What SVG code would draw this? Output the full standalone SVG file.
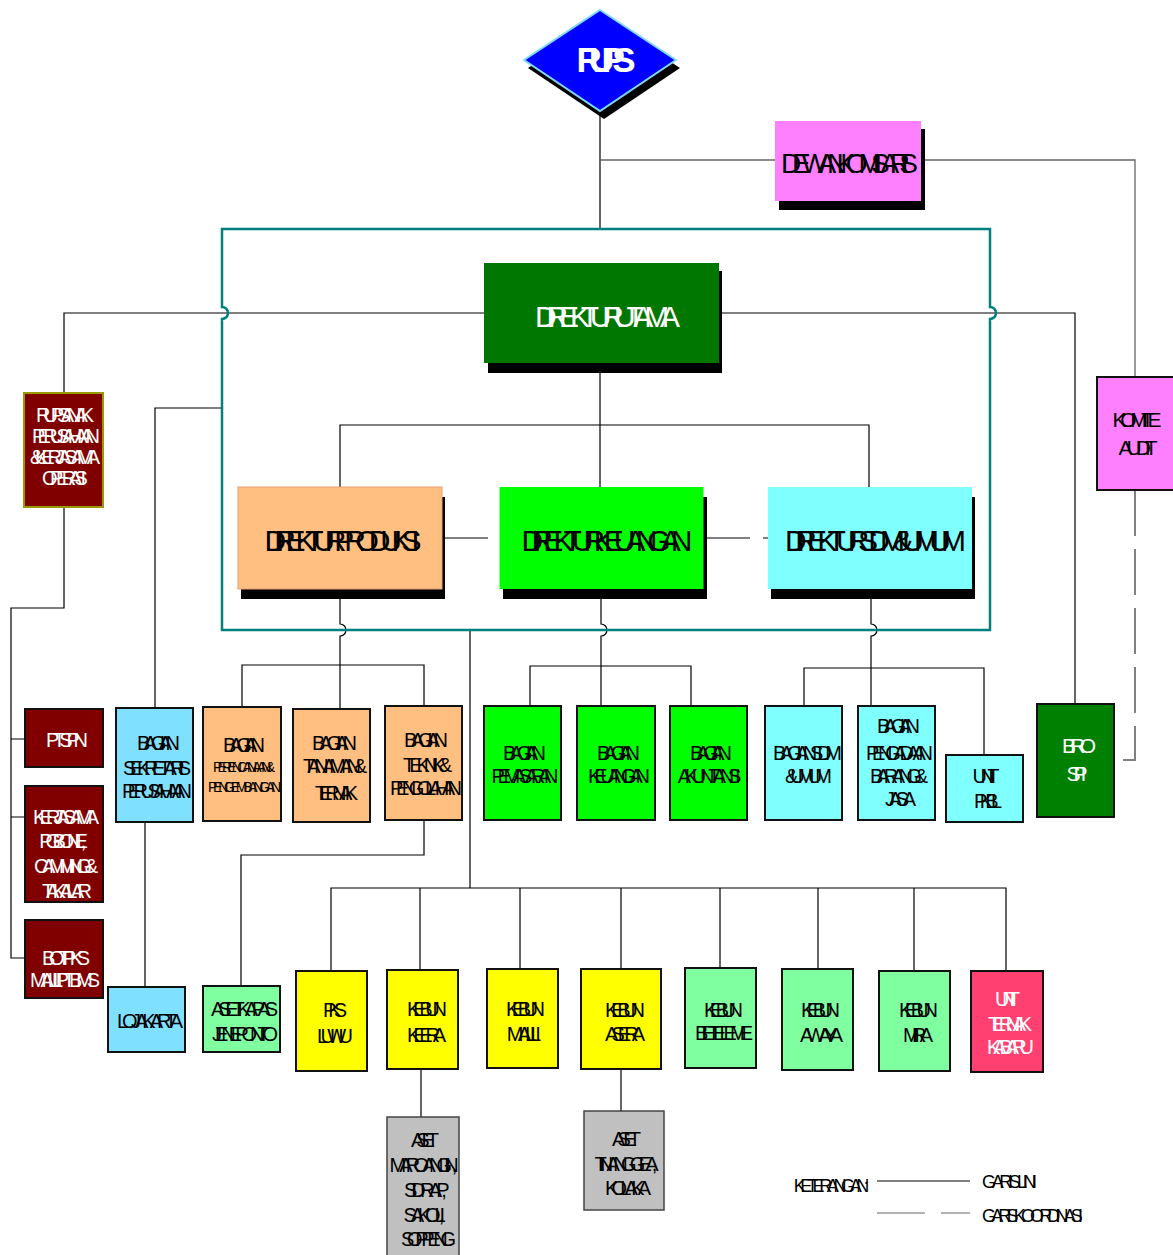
<svg xmlns="http://www.w3.org/2000/svg" width="1173" height="1255" viewBox="0 0 1173 1255">
<style>
.ln{fill:none;stroke:#000;stroke-width:1.2}
.lg{fill:none;stroke:#666;stroke-width:1.3}
.co{fill:none;stroke:#808080;stroke-width:2;stroke-dasharray:46 13}
.sh{fill:#000}
.bx{stroke:#111;stroke-width:2}
.t{font-family:"Liberation Sans",Arial,sans-serif;font-size:20px;text-anchor:middle;fill:#000}
.s{font-size:14px}
.w{fill:#fff}
.big{font-size:30px}
.f20{font-size:21px}
.lg18{font-size:18px}
.st{text-anchor:start}
.blue{fill:#80E0FF}.org{fill:#FFBF80}.grn{fill:#00FF00}.cyn{fill:#80FFFF}.lgr{fill:#80FFA0}.yel{fill:#FFFF00}.mar{fill:#800000}.gry{fill:#C0C0C0;stroke:#444;stroke-width:1.5}
</style>
<rect width="1173" height="1255" fill="#fff"/>
<g id="connectors">
<path class="ln" d="M600,111 V229"/>
<path class="lg" d="M600,160 H776 M921,160 H1135 V377"/>
<path class="ln" d="M484,313 H64 V393 M719,313 H1075 V704"/>
<path class="ln" d="M64,507 V608 H11 V958 H25 M11,739 H25 M11,817 H25"/>
<path class="ln" d="M222,408 H155 V708"/>
<path class="ln" d="M600,373 V487 M340,487 V425 H869 V487"/>
<path class="ln" d="M340,599 V624 a6,6 0 0 1 0,12 V709 M242,707 V665 H424 V706"/>
<path class="ln" d="M601,599 V624 a6,6 0 0 1 0,12 V706 M530,706 V666 H691 V706"/>
<path class="ln" d="M871,599 V624 a6,6 0 0 1 0,12 V706 M804,706 V668 H984 V755"/>
<path class="ln" d="M470,630 V888 M331,971 V888 H1006 V971 M420,888 V970 M520,888 V969 M621,888 V969 M720,888 V968 M818,888 V969 M914,888 V971"/>
<path class="ln" d="M424,820 V855 H241 V986 M145,822 V987 M421,1069 V1117 M621,1069 V1111"/>
<path class="co" d="M1135,490 V760 H1114"/>
<path class="co" d="M442,538 H499 M704,538 H768"/>
<path fill="none" stroke="#008080" stroke-width="2.5" d="M222,229 H990 V307 a6,6 0 0 1 0,12 V630 H222 V319 a6,6 0 0 0 0,-12 Z"/>
<path class="ln" d="M877,1181 H970"/>
<path fill="none" stroke="#666" stroke-width="1.2" d="M877,1213 H925 M941,1213 H970"/>
</g>
<g id="rups">
<polygon class="sh" points="604,18 680,68 604,119 528,68"/>
<polygon points="600,10 676,60 600,111 524,60" fill="#0000FF" stroke="#80D8FF" stroke-width="2"/>
<text class="t w" x="606" y="72" style="font-size:35px;font-weight:bold" textLength="59" lengthAdjust="spacing">RUPS</text>
</g>
<g id="dewan-komisaris">
<rect class="sh" x="779" y="129" width="146" height="81"/>
<rect x="775" y="121" width="146" height="80" fill="#FF80FF"/>
<text class="t" x="849.5" y="173" style="font-size:28px" textLength="137" lengthAdjust="spacing">DEWAN KOMISARIS</text>
</g>
<g id="komite-audit">
<rect class="bx" x="1097" y="377" width="78" height="113" fill="#FF80FF"/>
<text class="t f20" x="1137" y="427" textLength="49" lengthAdjust="spacing">KOMITE</text>
<text class="t f20" x="1138" y="455" textLength="39" lengthAdjust="spacing">AUDIT</text>
</g>
<g id="direktur-utama">
<rect class="sh" x="488" y="271" width="234" height="102"/>
<rect x="484" y="263" width="235" height="100" fill="#007700"/>
<text class="t w big" x="607.5" y="327" textLength="145" lengthAdjust="spacing">DIREKTUR UTAMA</text>
</g>
<g id="direktur-produksi">
<rect class="sh" x="241" y="497" width="204" height="102"/>
<rect x="238" y="487" width="204" height="102" fill="#FFBF80" stroke="#E8A070" stroke-width="1"/>
<text class="t big" x="343" y="551" textLength="155" lengthAdjust="spacing">DIREKTUR PRODUKSI</text>
</g>
<g id="direktur-keuangan">
<rect class="sh" x="503" y="497" width="204" height="102"/>
<rect x="499.5" y="487" width="204" height="102" fill="#00FF00"/>
<text class="t big" x="607" y="551" textLength="171" lengthAdjust="spacing">DIREKTUR KEUANGAN</text>
</g>
<g id="direktur-sdm">
<rect class="sh" x="771" y="497" width="204" height="102"/>
<rect x="768" y="487" width="204" height="102" fill="#80FFFF"/>
<text class="t big" x="875.5" y="551" textLength="181" lengthAdjust="spacing">DIREKTUR SDM &amp; UMUM</text>
</g>
<g id="rups-anak">
<rect class="mar" x="24" y="393" width="79" height="114" stroke="#999900" stroke-width="2"/>
<text class="t w" x="65" y="422" textLength="58" lengthAdjust="spacing">RUPS ANAK</text>
<text class="t w" x="66" y="443" textLength="68" lengthAdjust="spacing">PERUSAHAAN</text>
<text class="t w" x="65" y="464" textLength="70" lengthAdjust="spacing">&amp; KERJASAMA</text>
<text class="t w" x="65" y="485" textLength="44" lengthAdjust="spacing">OPERASI</text>
</g>
<g id="ptspn">
<rect class="bx mar" x="25" y="709" width="78" height="58"/>
<text class="t w" x="67" y="747" textLength="42" lengthAdjust="spacing">PTSPN</text>
</g>
<g id="kerjasama">
<rect class="bx mar" x="25" y="786" width="78" height="116"/>
<text class="t w" x="66" y="824" textLength="66" lengthAdjust="spacing">KERJASAMA</text>
<text class="t w" x="63.5" y="848" textLength="47" lengthAdjust="spacing">PG BONE,</text>
<text class="t w" x="66" y="873" textLength="64" lengthAdjust="spacing">CAMMING &amp;</text>
<text class="t w" x="67" y="898" textLength="50" lengthAdjust="spacing">TAKALAR</text>
</g>
<g id="bot-pks">
<rect class="bx mar" x="25" y="920" width="78" height="78"/>
<text class="t w" x="66" y="965" textLength="48" lengthAdjust="spacing">BOT PKS</text>
<text class="t w" x="65" y="987" textLength="70" lengthAdjust="spacing">MALILI PTBMS</text>
</g>
<g id="bagian-sekretaris">
<rect class="bx blue" x="116" y="708" width="77" height="114"/>
<text class="t" x="158.5" y="750" textLength="43" lengthAdjust="spacing">BAGIAN</text>
<text class="t" x="157" y="775" textLength="68" lengthAdjust="spacing">SEKRETARIS</text>
<text class="t" x="157" y="798" textLength="70" lengthAdjust="spacing">PERUSAHAAN</text>
</g>
<g id="bagian-perencanaan">
<rect class="bx org" x="203" y="707" width="78" height="114"/>
<text class="t" x="244" y="752" textLength="42" lengthAdjust="spacing">BAGIAN</text>
<text class="t s" x="244" y="772" textLength="62" lengthAdjust="spacing">PERENCANAAN &amp;</text>
<text class="t s" x="244.5" y="792" textLength="73" lengthAdjust="spacing">PENGEMBANGAN</text>
</g>
<g id="bagian-tanaman">
<rect class="bx org" x="293" y="709" width="77" height="113"/>
<text class="t" x="334.5" y="750" textLength="45" lengthAdjust="spacing">BAGIAN</text>
<text class="t" x="335" y="773" textLength="64" lengthAdjust="spacing">TANAMAN &amp;</text>
<text class="t" x="336.5" y="800" textLength="43" lengthAdjust="spacing">TERNAK</text>
</g>
<g id="bagian-teknik">
<rect class="bx org" x="385" y="706" width="77" height="114"/>
<text class="t" x="426" y="747" textLength="44" lengthAdjust="spacing">BAGIAN</text>
<text class="t" x="427.5" y="772" textLength="49" lengthAdjust="spacing">TEKNIK &amp;</text>
<text class="t" x="426" y="795" textLength="72" lengthAdjust="spacing">PENGOLAHAN</text>
</g>
<g id="bagian-pemasaran">
<rect class="bx grn" x="484" y="706" width="77" height="114"/>
<text class="t" x="524.5" y="760" textLength="43" lengthAdjust="spacing">BAGIAN</text>
<text class="t" x="525" y="783" textLength="67" lengthAdjust="spacing">PEMASARAN</text>
</g>
<g id="bagian-keuangan">
<rect class="bx grn" x="577" y="706" width="78" height="114"/>
<text class="t" x="618.5" y="760" textLength="43" lengthAdjust="spacing">BAGIAN</text>
<text class="t" x="619" y="783" textLength="62" lengthAdjust="spacing">KEUANGAN</text>
</g>
<g id="bagian-akuntansi">
<rect class="bx grn" x="670" y="706" width="77" height="114"/>
<text class="t" x="711" y="760" textLength="42" lengthAdjust="spacing">BAGIAN</text>
<text class="t" x="709.5" y="783" textLength="63" lengthAdjust="spacing">AKUNTANSI</text>
</g>
<g id="bagian-sdm">
<rect class="bx cyn" x="765" y="706" width="77" height="114"/>
<text class="t" x="807.5" y="760" textLength="69" lengthAdjust="spacing">BAGIAN SDM</text>
<text class="t" x="808.5" y="783" textLength="47" lengthAdjust="spacing">&amp; UMUM</text>
</g>
<g id="bagian-pengadaan">
<rect class="bx cyn" x="858" y="706" width="77" height="114"/>
<text class="t" x="898.5" y="733" textLength="43" lengthAdjust="spacing">BAGIAN</text>
<text class="t" x="899.5" y="760" textLength="67" lengthAdjust="spacing">PENGADAAN</text>
<text class="t" x="899" y="783" textLength="58" lengthAdjust="spacing">BARANG &amp;</text>
<text class="t" x="900.5" y="806" textLength="31" lengthAdjust="spacing">JASA</text>
</g>
<g id="unit-pkbl">
<rect class="bx cyn" x="946" y="755" width="77" height="67"/>
<text class="t" x="986" y="783" textLength="27" lengthAdjust="spacing">UNIT</text>
<text class="t" x="988" y="808" textLength="28" lengthAdjust="spacing">PKBL</text>
</g>
<g id="biro-spi">
<rect class="bx" x="1037" y="704" width="77" height="113" fill="#008000"/>
<text class="t w f20" x="1079" y="753" textLength="34" lengthAdjust="spacing">BIRO</text>
<text class="t w f20" x="1077" y="781" textLength="20" lengthAdjust="spacing">SPI</text>
</g>
<g id="lo-jakarta">
<rect class="bx blue" x="108" y="987" width="77" height="65"/>
<text class="t" x="150" y="1028" textLength="66" lengthAdjust="spacing">LO JAKARTA</text>
</g>
<g id="aset-kapas">
<rect class="bx lgr" x="203" y="986" width="77" height="66"/>
<text class="t" x="244.5" y="1016" textLength="67" lengthAdjust="spacing">ASET KAPAS</text>
<text class="t" x="245" y="1041" textLength="66" lengthAdjust="spacing">JENEPONTO</text>
</g>
<g id="pks-luwu">
<rect class="bx yel" x="296" y="971" width="71" height="100"/>
<text class="t" x="335" y="1017" textLength="24" lengthAdjust="spacing">PKS</text>
<text class="t" x="335" y="1043" textLength="36" lengthAdjust="spacing">LUWU</text>
</g>
<g id="kebun-keera">
<rect class="bx yel" x="387" y="970" width="71" height="99"/>
<text class="t" x="427" y="1016" textLength="40" lengthAdjust="spacing">KEBUN</text>
<text class="t" x="426.5" y="1042" textLength="39" lengthAdjust="spacing">KEERA</text>
</g>
<g id="kebun-malili">
<rect class="bx yel" x="487" y="969" width="71" height="99"/>
<text class="t" x="525.5" y="1016" textLength="39" lengthAdjust="spacing">KEBUN</text>
<text class="t" x="524" y="1041" textLength="34" lengthAdjust="spacing">MALILI</text>
</g>
<g id="kebun-asera">
<rect class="bx yel" x="581" y="969" width="80" height="100"/>
<text class="t" x="625" y="1017" textLength="40" lengthAdjust="spacing">KEBUN</text>
<text class="t" x="625" y="1041" textLength="40" lengthAdjust="spacing">ASERA</text>
</g>
<g id="kebun-beteleme">
<rect class="bx lgr" x="685" y="968" width="71" height="100"/>
<text class="t" x="723.5" y="1017" textLength="39" lengthAdjust="spacing">KEBUN</text>
<text class="t" x="724" y="1040" textLength="58" lengthAdjust="spacing">BETELEME</text>
</g>
<g id="kebun-awaya">
<rect class="bx lgr" x="782" y="969" width="71" height="101"/>
<text class="t" x="820.5" y="1017" textLength="39" lengthAdjust="spacing">KEBUN</text>
<text class="t" x="821.5" y="1042" textLength="43" lengthAdjust="spacing">AWAYA</text>
</g>
<g id="kebun-mira">
<rect class="bx lgr" x="879" y="971" width="71" height="100"/>
<text class="t" x="918.5" y="1017" textLength="39" lengthAdjust="spacing">KEBUN</text>
<text class="t" x="918" y="1042" textLength="30" lengthAdjust="spacing">MIRA</text>
</g>
<g id="unit-ternak-kabaru">
<rect class="bx" x="971" y="971" width="72" height="101" fill="#FF4070"/>
<text class="t w" x="1007.5" y="1006" textLength="25" lengthAdjust="spacing">UNIT</text>
<text class="t w" x="1010" y="1031" textLength="44" lengthAdjust="spacing">TERNAK</text>
<text class="t w" x="1010.5" y="1054" textLength="47" lengthAdjust="spacing">KABARU</text>
</g>
<g id="aset-maroangin">
<rect class="gry" x="387" y="1117" width="72" height="145"/>
<text class="t" x="425" y="1147" textLength="28" lengthAdjust="spacing">ASET</text>
<text class="t" x="424" y="1172" textLength="68" lengthAdjust="spacing">MAROANGIN,</text>
<text class="t" x="425.5" y="1197" textLength="43" lengthAdjust="spacing">SIDRAP,</text>
<text class="t" x="424.5" y="1222" textLength="41" lengthAdjust="spacing">SAKOLI,</text>
<text class="t" x="428.5" y="1246" textLength="55" lengthAdjust="spacing">SOPPENG</text>
</g>
<g id="aset-tinanggea">
<rect class="gry" x="584" y="1111" width="80" height="99"/>
<text class="t" x="626.5" y="1146" textLength="29" lengthAdjust="spacing">ASET</text>
<text class="t" x="626.5" y="1171" textLength="63" lengthAdjust="spacing">TINANGGEA,</text>
<text class="t" x="628" y="1195" textLength="46" lengthAdjust="spacing">KOLAKA</text>
</g>
<g id="legend">
<text class="t lg18" x="831.5" y="1192" textLength="75" lengthAdjust="spacing">KETERANGAN :</text>
<text class="t lg18 st" x="982" y="1188" textLength="55" lengthAdjust="spacing">GARIS LINI</text>
<text class="t lg18 st" x="982" y="1222" textLength="101" lengthAdjust="spacing">GARIS KOORDINASI</text>
</g>
</svg>
